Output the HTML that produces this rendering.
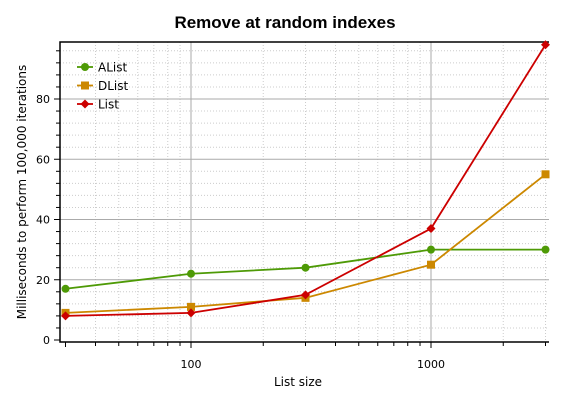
<!DOCTYPE html>
<html><head><meta charset="utf-8"><style>
body{margin:0;background:#fff;}
svg{font-family:"DejaVu Sans","Liberation Sans",sans-serif;}
</style></head><body>
<svg width="569" height="403" viewBox="0 0 569 403">
<text x="285" y="28" text-anchor="middle" font-size="17" font-weight="bold" style="font-family:'Liberation Sans',sans-serif">Remove at random indexes</text>
<g id="grid"></g>
<g id="axes"></g>
<g id="series"></g>
<g id="legend"></g>
<text x="298" y="386" text-anchor="middle" font-size="12">List size</text>
<text transform="translate(26,192) rotate(-90)" text-anchor="middle" font-size="12">Milliseconds to perform 100,000 iterations</text>
</svg>
<script>
const sizes=[30,100,300,1000,3000];
const alist=[17,22,24,30,30];
const dlist=[9,11,14,25,55];
const list=[8,9,15,37,98];
const yTicks=[0,20,40,60,80];
const xTicks=[100,1000];
const seriesNames=['AList','DList','List'];
const NS='http://www.w3.org/2000/svg';
const L=60,R=549,T=42,B=342;
function xs(v){return 191+240*Math.log10(v/100);}
function ys(v){return 340-v*(241/80);}
function mk(tag,attrs,parent){const e=document.createElementNS(NS,tag);for(const k in attrs)e.setAttribute(k,attrs[k]);parent.appendChild(e);return e;}
const grid=document.getElementById('grid'),axes=document.getElementById('axes'),ser=document.getElementById('series'),leg=document.getElementById('legend');
for(let v=4;v<100;v+=4){if(v%20===0)continue;const y=ys(v);if(y<T)break;
 const l=mk('line',{x1:L,x2:R,y1:y,y2:y,stroke:'#ccc','stroke-dasharray':'1,2'},grid);
 
 mk('line',{x1:L-4,x2:L,y1:y,y2:y,stroke:'#000'},axes);}
const minors=[40,50,60,70,80,90,200,300,400,500,600,700,800,900,2000,3000];
minors.forEach(v=>{const x=xs(v);
 const l=mk('line',{x1:x,x2:x,y1:T,y2:B,stroke:'#ccc','stroke-dasharray':'1,2'},grid);
 
 mk('line',{x1:x,x2:x,y1:B,y2:B+4,stroke:'#000'},axes);});
mk('line',{x1:xs(30),x2:xs(30),y1:B,y2:B+5,stroke:'#000'},axes);
yTicks.forEach(v=>{const y=ys(v);
 if(v>0){const g=mk('line',{x1:L,x2:R,y1:y,y2:y,stroke:'#aaa'},grid);}
 mk('line',{x1:L-6,x2:L,y1:y,y2:y,stroke:'#000'},axes);
 const t=mk('text',{x:L-10,y:y+4,'text-anchor':'end','font-size':'11'},axes);t.textContent=v;
 });
xTicks.forEach(v=>{const x=xs(v);
 const g=mk('line',{x1:x,x2:x,y1:T,y2:B,stroke:'#aaa'},grid);
 mk('line',{x1:x,x2:x,y1:B,y2:B+6,stroke:'#000'},axes);
 const t=mk('text',{x:x,y:B+26,'text-anchor':'middle','font-size':'11'},axes);t.textContent=v;
 });
mk('polyline',{points:`${R},${T} ${L},${T} ${L},${B} ${R},${B}`,fill:'none',stroke:'#000','stroke-width':1.5},axes);
const colors=['#4e9a06','#cc8800','#cc0000'];
const datas=[alist,dlist,list];
function marker(i,x,y,parent){
 if(i===0)return mk('circle',{cx:x,cy:y,r:4,fill:colors[i]},parent);
 if(i===1)return mk('rect',{x:x-4,y:y-4,width:8,height:8,fill:colors[i]},parent);
 return mk('polygon',{points:`${x},${y-4.5} ${x+4.5},${y} ${x},${y+4.5} ${x-4.5},${y}`,fill:colors[i]},parent);}
datas.forEach((d,i)=>{
 const pl=mk('polyline',{points:d.map((v,j)=>xs(sizes[j])+','+ys(v)).join(' '),fill:'none',stroke:colors[i],'stroke-width':1.8},ser);
 
 d.forEach((v,j)=>{const m=marker(i,xs(sizes[j]),ys(v),ser);
  });
 const ly=67+i*18.5;
 const ll=mk('line',{x1:77,x2:93,y1:ly,y2:ly,stroke:colors[i],'stroke-width':1.8},leg);
 
 marker(i,85,ly,leg);
 const t=mk('text',{x:98,y:ly+4.5,'font-size':'12'},leg);t.textContent=seriesNames[i];
 
});
</script>
</body></html>
